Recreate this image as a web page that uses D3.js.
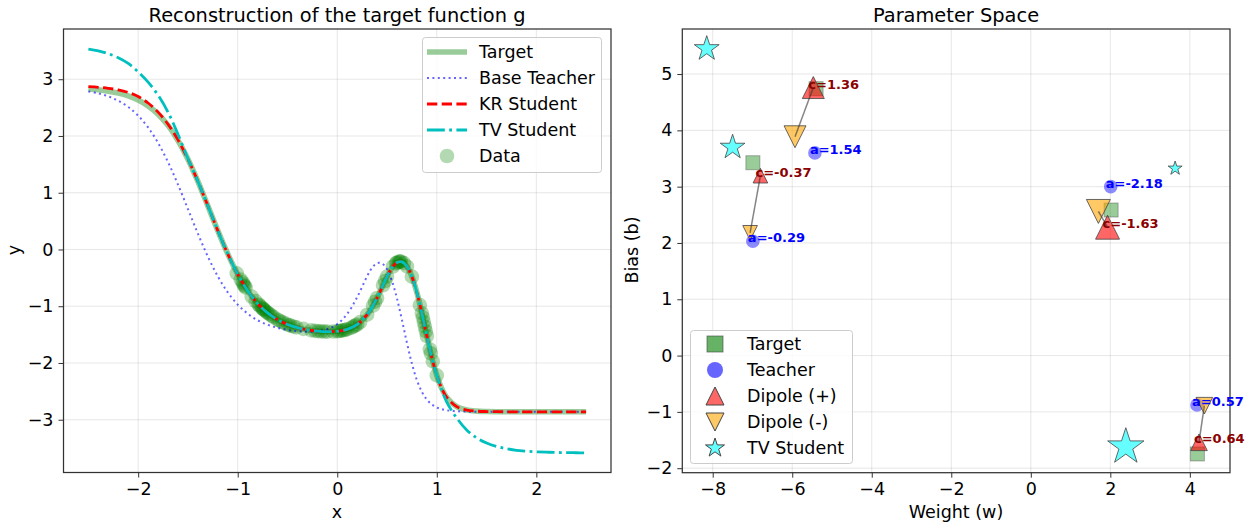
<!DOCTYPE html>
<html>
<head>
<meta charset="utf-8">
<script src="https://cdn.jsdelivr.net/npm/d3@7"></script>
<style>
body{margin:0;background:#fff}
svg{display:block;font-family:"DejaVu Sans",sans-serif}
</style>
</head>
<body>
<svg id="fig" width="1250" height="524"></svg>
<script>
const xGrid = [-2.5,-2.4,-2.3,-2.2,-2.1,-2.0,-1.9,-1.8,-1.7,-1.6,-1.5,-1.4,-1.3,-1.2,-1.1,-1.0,-0.9,-0.8,-0.7,-0.6,-0.5,-0.4,-0.3,-0.2,-0.1,0,0.1,0.2,0.3,0.35,0.4,0.45,0.5,0.55,0.6,0.65,0.7,0.75,0.8,0.85,0.9,0.95,1.0,1.05,1.1,1.2,1.3,1.4,1.5,1.6,1.7,1.8,1.9,2.0,2.1,2.2,2.3,2.4,2.5]
const targetY = [2.829,2.813,2.790,2.757,2.707,2.635,2.531,2.385,2.186,1.921,1.591,1.200,0.769,0.332,-0.078,-0.436,-0.727,-0.954,-1.117,-1.237,-1.321,-1.378,-1.416,-1.438,-1.448,-1.441,-1.407,-1.322,-1.149,-1.018,-0.855,-0.667,-0.477,-0.321,-0.229,-0.218,-0.299,-0.479,-0.760,-1.123,-1.525,-1.906,-2.219,-2.451,-2.608,-2.769,-2.829,-2.849,-2.856,-2.859,-2.86,-2.86,-2.86,-2.86,-2.86,-2.86,-2.86,-2.86,-2.86]
const teacherY = [2.785,2.750,2.697,2.620,2.511,2.358,2.150,1.878,1.540,1.144,0.713,0.279,-0.124,-0.472,-0.755,-0.971,-1.131,-1.247,-1.326,-1.381,-1.418,-1.440,-1.448,-1.440,-1.403,-1.314,-1.136,-0.841,-0.471,-0.323,-0.241,-0.247,-0.349,-0.555,-0.862,-1.243,-1.645,-2.011,-2.301,-2.507,-2.645,-2.731,-2.784,-2.815,-2.834,-2.851,-2.857,-2.86,-2.86,-2.86,-2.86,-2.86,-2.86,-2.86,-2.86,-2.86,-2.86,-2.86,-2.86]
const krY = [2.870,2.858,2.840,2.812,2.767,2.695,2.581,2.420,2.206,1.931,1.591,1.200,0.769,0.332,-0.078,-0.436,-0.727,-0.954,-1.117,-1.237,-1.321,-1.378,-1.416,-1.438,-1.448,-1.441,-1.407,-1.322,-1.149,-1.018,-0.855,-0.667,-0.477,-0.321,-0.229,-0.218,-0.299,-0.479,-0.760,-1.123,-1.525,-1.906,-2.219,-2.451,-2.608,-2.769,-2.829,-2.849,-2.856,-2.859,-2.86,-2.86,-2.86,-2.86,-2.86,-2.86,-2.86,-2.86,-2.86]
const tvY = [3.53,3.50,3.45,3.38,3.28,3.13,2.95,2.72,2.42,2.03,1.60,1.20,0.769,0.332,-0.078,-0.436,-0.727,-0.954,-1.117,-1.237,-1.321,-1.378,-1.416,-1.438,-1.448,-1.441,-1.407,-1.322,-1.149,-1.018,-0.855,-0.667,-0.477,-0.321,-0.229,-0.218,-0.299,-0.479,-0.760,-1.123,-1.525,-1.906,-2.22,-2.47,-2.69,-2.97,-3.18,-3.32,-3.41,-3.47,-3.51,-3.54,-3.555,-3.565,-3.572,-3.577,-3.58,-3.582,-3.584]
const dataX = [-1.01,-0.97,-0.95,-0.94,-0.93,-0.92,-0.86,-0.82,-0.79,-0.78,-0.76,-0.75,-0.74,-0.73,-0.71,-0.70,-0.68,-0.66,-0.64,-0.60,-0.58,-0.55,-0.52,-0.49,-0.47,-0.44,-0.41,-0.34,-0.26,-0.22,-0.19,-0.16,-0.13,-0.10,-0.04,0.00,0.02,0.04,0.06,0.08,0.10,0.14,0.16,0.18,0.20,0.23,0.30,0.36,0.38,0.40,0.46,0.48,0.50,0.56,0.59,0.60,0.62,0.63,0.64,0.67,0.70,0.75,0.83,0.85,0.86,0.87,0.88,0.89,0.90,0.93,0.94,0.96,1.00]
const dataY = [-0.42,-0.53,-0.58,-0.62,-0.645,-0.67,-0.83,-0.91,-0.97,-0.99,-1.02,-1.04,-1.055,-1.07,-1.10,-1.117,-1.14,-1.165,-1.19,-1.237,-1.255,-1.28,-1.305,-1.33,-1.342,-1.357,-1.373,-1.40,-1.425,-1.434,-1.44,-1.443,-1.446,-1.448,-1.445,-1.441,-1.436,-1.43,-1.423,-1.415,-1.407,-1.38,-1.36,-1.342,-1.322,-1.28,-1.149,-0.99,-0.92,-0.855,-0.63,-0.555,-0.477,-0.30,-0.245,-0.229,-0.215,-0.213,-0.212,-0.24,-0.299,-0.479,-0.98,-1.123,-1.20,-1.28,-1.36,-1.44,-1.525,-1.76,-1.83,-1.97,-2.219]

// ---- right panel: parameter space (w, b)
const targetW = [-6.99,-5.40,2.02,4.19]
const targetB = [3.425,4.74,2.585,-1.747]
const teacherW = [-6.99,-5.43,2.01,4.18]
const teacherB = [2.03,3.60,3.00,-0.877]
const teacherA = [-0.29,1.54,-2.18,0.57]
const dipPlusW = [-6.80,-5.47,1.93,4.23]
const dipPlusB = [3.195,4.76,2.28,-1.54]
const dipMinusW = [-7.06,-5.93,1.70,4.365]
const dipMinusB = [2.18,3.886,2.56,-0.89]
const dipC = [-0.37,1.36,-1.63,0.64]
const tvW = [-8.15,-7.50,3.63,2.39]
const tvB = [5.45,3.70,3.325,-1.62]
const tvMag = [1.75,1.72,0.28,3.3]

const xTicksL = [-2,-1,0,1,2], yTicksL = [-3,-2,-1,0,1,2,3]
const xTicksR = [-8,-6,-4,-2,0,2,4], yTicksR = [-2,-1,0,1,2,3,4,5]

const svg = d3.select('#fig')
const fmt = d3.format('d')
const FS = 17.5   // tick / label / legend font size

function makeAxes(box, xdom, ydom, xticks, yticks, id){
  const x = d3.scaleLinear().domain(xdom).range([box.x0, box.x1])
  const y = d3.scaleLinear().domain(ydom).range([box.y1, box.y0])
  const g = svg.append('g')
  svg.append('clipPath').attr('id', id).append('rect')
    .attr('x', box.x0).attr('y', box.y0).attr('width', box.x1-box.x0).attr('height', box.y1-box.y0)
  // grid
  g.selectAll('.gx').data(xticks).enter().append('line')
    .attr('x1', d=>x(d)).attr('x2', d=>x(d)).attr('y1', box.y0).attr('y2', box.y1)
    .attr('stroke', '#b0b0b0').attr('stroke-opacity', 0.3).attr('stroke-width', 1)
  g.selectAll('.gy').data(yticks).enter().append('line')
    .attr('y1', d=>y(d)).attr('y2', d=>y(d)).attr('x1', box.x0).attr('x2', box.x1)
    .attr('stroke', '#b0b0b0').attr('stroke-opacity', 0.3).attr('stroke-width', 1)
  const plot = svg.append('g').attr('clip-path', `url(#${id})`)
  return {x, y, g, plot, box, xticks, yticks}
}

function finishAxes(ax){
  const {x, y, box} = ax
  const ga = svg.append('g')
  ga.append('rect').attr('x', box.x0).attr('y', box.y0).attr('width', box.x1-box.x0).attr('height', box.y1-box.y0)
    .attr('fill', 'none').attr('stroke', '#333').attr('stroke-width', 1.25)
  const xa = ga.append('g').attr('transform', `translate(0,${box.y1})`)
    .call(d3.axisBottom(x).tickValues(ax.xticks).tickFormat(fmt).tickSize(5).tickPadding(5))
  const ya = ga.append('g').attr('transform', `translate(${box.x0},0)`)
    .call(d3.axisLeft(y).tickValues(ax.yticks).tickFormat(fmt).tickSize(5).tickPadding(5))
  ;[xa, ya].forEach(a=>{
    a.select('.domain').remove()
    a.selectAll('line').attr('stroke', '#333')
    a.selectAll('text').attr('font-size', FS).attr('fill', '#000').attr('font-family', '"DejaVu Sans"')
  })
}

// ===== left panel =====
const L = makeAxes({x0:63.5, x1:611, y0:29, y1:472.5}, [-2.75,2.75], [-3.93,3.885], xTicksL, yTicksL, 'clipL')
const line = d3.line().x(d=>L.x(d[0])).y(d=>L.y(d[1])).curve(d3.curveCatmullRom)
const pts = ys => xGrid.map((v,i)=>[v, ys[i]])

L.plot.append('path').attr('d', line(pts(targetY))).attr('fill','none')
  .attr('stroke','green').attr('stroke-opacity',0.4).attr('stroke-width',5.6)
L.plot.selectAll('.dp').data(dataX).enter().append('circle')
  .attr('cx', d=>L.x(d)).attr('cy', (d,i)=>L.y(dataY[i])).attr('r', 7.3)
  .attr('fill','green').attr('fill-opacity',0.3)
L.plot.append('path').attr('d', line(pts(teacherY))).attr('fill','none')
  .attr('stroke','blue').attr('stroke-opacity',0.6).attr('stroke-width',2).attr('stroke-dasharray','2,3.4')
L.plot.append('path').attr('d', line(pts(krY))).attr('fill','none')
  .attr('stroke','red').attr('stroke-width',2.8).attr('stroke-dasharray','10.3,4.4')
L.plot.append('path').attr('d', line(pts(tvY))).attr('fill','none')
  .attr('stroke','#00bfbf').attr('stroke-width',2.8).attr('stroke-dasharray','17.8,4.4,2.8,4.4')
finishAxes(L)

// left legend
const lg = svg.append('g')
lg.append('rect').attr('x',422.5).attr('y',37.5).attr('width',179).attr('height',135).attr('rx',3)
  .attr('fill','#fff').attr('fill-opacity',0.8).attr('stroke','#ccc')
const lItems = [
  {t:'Target', s:{stroke:'green', op:0.4, w:5.6, dash:null}},
  {t:'Base Teacher', s:{stroke:'blue', op:0.6, w:2, dash:'2,3.4'}},
  {t:'KR Student', s:{stroke:'red', op:1, w:2.8, dash:'10.3,4.4'}},
  {t:'TV Student', s:{stroke:'#00bfbf', op:1, w:2.8, dash:'17.8,4.4,2.8,4.4'}},
  {t:'Data', s:null}
]
lItems.forEach((it,i)=>{
  const yy = 52 + i*26
  if (it.s) {
    lg.append('line').attr('x1',427).attr('x2',467).attr('y1',yy).attr('y2',yy)
      .attr('stroke',it.s.stroke).attr('stroke-opacity',it.s.op).attr('stroke-width',it.s.w)
      .attr('stroke-dasharray',it.s.dash)
  } else {
    lg.append('circle').attr('cx',447).attr('cy',yy).attr('r',7.3).attr('fill','green').attr('fill-opacity',0.3)
  }
  lg.append('text').attr('x',479).attr('y',yy+6).attr('font-size',FS).text(it.t)
})

svg.append('text').attr('x',337).attr('y',22).attr('text-anchor','middle').attr('font-size',19.4)
  .text('Reconstruction of the target function g')
svg.append('text').attr('x',337).attr('y',518).attr('text-anchor','middle').attr('font-size',FS).text('x')
svg.append('text').attr('transform','translate(20,250) rotate(-90)').attr('text-anchor','middle').attr('font-size',FS).text('y')

// ===== right panel =====
const R = makeAxes({x0:682.3, x1:1230, y0:29, y1:472.7}, [-8.765,5.01], [-2.08,5.80], xTicksR, yTicksR, 'clipR')
const triW = d3.scaleLinear().domain([0,1]).range([11.9,19.3])   // marker width from |c|
const starR = d3.scaleLinear().domain([0,1]).range([6.26,10.15]) // outer radius from magnitude

function triPath(w, down){
  const h = w/2, s = down ? -1 : 1
  return `M0,${-s*h}L${-h},${s*h}L${h},${s*h}Z`
}
function starPath(r){
  const ri = r*0.381966, p = []
  for (let k=0;k<10;k++){
    const a = Math.PI*k/5, rr = k%2 ? ri : r
    p.push([rr*Math.sin(a), -rr*Math.cos(a)])
  }
  return 'M'+p.map(q=>q[0].toFixed(2)+','+q[1].toFixed(2)).join('L')+'Z'
}
const mEdge = '#444'

R.plot.selectAll('.tsq').data(targetW).enter().append('rect')
  .attr('x', d=>R.x(d)-7).attr('y', (d,i)=>R.y(targetB[i])-7).attr('width',14).attr('height',14)
  .attr('fill','green').attr('fill-opacity',0.4).attr('stroke',mEdge).attr('stroke-opacity',0.4)
R.plot.selectAll('.tch').data(teacherW).enter().append('circle')
  .attr('cx', d=>R.x(d)).attr('cy', (d,i)=>R.y(teacherB[i])).attr('r',6.8)
  .attr('fill','blue').attr('fill-opacity',0.45)
R.plot.selectAll('.dpl').data(dipPlusW).enter().append('path')
  .attr('transform',(d,i)=>`translate(${R.x(d)},${R.y(dipPlusB[i])})`)
  .attr('d',(d,i)=>triPath(triW(Math.abs(dipC[i])), false))
  .attr('fill','red').attr('fill-opacity',0.6).attr('stroke',mEdge).attr('stroke-opacity',0.8)
R.plot.selectAll('.dmn').data(dipMinusW).enter().append('path')
  .attr('transform',(d,i)=>`translate(${R.x(d)},${R.y(dipMinusB[i])})`)
  .attr('d',(d,i)=>triPath(triW(Math.abs(dipC[i])), true))
  .attr('fill','orange').attr('fill-opacity',0.6).attr('stroke',mEdge).attr('stroke-opacity',0.8)
R.plot.selectAll('.dln').data(dipPlusW).enter().append('line')
  .attr('x1', d=>R.x(d)).attr('y1',(d,i)=>R.y(dipPlusB[i]))
  .attr('x2',(d,i)=>R.x(dipMinusW[i])).attr('y2',(d,i)=>R.y(dipMinusB[i]))
  .attr('stroke','#333').attr('stroke-opacity',0.6).attr('stroke-width',1.5)
R.plot.selectAll('.tvs').data(tvW).enter().append('path')
  .attr('transform',(d,i)=>`translate(${R.x(d)},${R.y(tvB[i])})`)
  .attr('d',(d,i)=>starPath(starR(tvMag[i])))
  .attr('fill','cyan').attr('fill-opacity',0.6).attr('stroke',mEdge).attr('stroke-opacity',0.8)
finishAxes(R)
// annotations are not clipped to the axes
const ann = svg.append('g')
ann.selectAll('.alab').data(teacherW).enter().append('text')
  .attr('x', d=>R.x(d)-5).attr('y',(d,i)=>R.y(teacherB[i])+1)
  .attr('font-size',13).attr('font-weight','bold').attr('fill','blue')
  .text((d,i)=>'a='+teacherA[i].toFixed(2))
ann.selectAll('.clab').data(dipPlusW).enter().append('text')
  .attr('x', d=>R.x(d)-5).attr('y',(d,i)=>R.y(dipPlusB[i])+1)
  .attr('font-size',13).attr('font-weight','bold').attr('fill','darkred')
  .text((d,i)=>'c='+dipC[i].toFixed(2))

// right legend
const rg = svg.append('g')
rg.append('rect').attr('x',690.5).attr('y',330.5).attr('width',162).attr('height',133).attr('rx',3)
  .attr('fill','#fff').attr('fill-opacity',0.8).attr('stroke','#ccc')
const rItems = ['Target','Teacher','Dipole (+)','Dipole (-)','TV Student']
rItems.forEach((t,i)=>{
  const yy = 344 + i*26, xx = 715
  const m = rg.append('g').attr('transform',`translate(${xx},${yy})`)
  if (i===0) m.append('rect').attr('x',-8).attr('y',-8).attr('width',16).attr('height',16)
    .attr('fill','green').attr('fill-opacity',0.6).attr('stroke',mEdge).attr('stroke-opacity',0.6)
  if (i===1) m.append('circle').attr('r',8).attr('fill','blue').attr('fill-opacity',0.6)
  if (i===2) m.append('path').attr('d',triPath(18,false)).attr('fill','red').attr('fill-opacity',0.6).attr('stroke',mEdge)
  if (i===3) m.append('path').attr('d',triPath(18,true)).attr('fill','orange').attr('fill-opacity',0.6).attr('stroke',mEdge)
  if (i===4) m.append('path').attr('d',starPath(10)).attr('fill','cyan').attr('fill-opacity',0.6).attr('stroke',mEdge)
  rg.append('text').attr('x',747).attr('y',yy+6).attr('font-size',FS).text(t)
})

svg.append('text').attr('x',956).attr('y',22).attr('text-anchor','middle').attr('font-size',19.4).text('Parameter Space')
svg.append('text').attr('x',956).attr('y',518).attr('text-anchor','middle').attr('font-size',FS).text('Weight (w)')
svg.append('text').attr('transform','translate(638,250) rotate(-90)').attr('text-anchor','middle').attr('font-size',FS).text('Bias (b)')
</script>
</body>
</html>
